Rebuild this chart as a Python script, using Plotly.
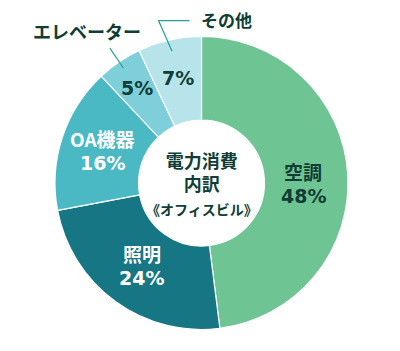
import math
import plotly.graph_objects as go

# ---- data ----
labels = ["空調", "照明", "OA機器", "エレベーター", "その他"]
values = [48, 24, 16, 5, 7]
label_inside = [True, True, True, False, False]
colors = ["#6fc493", "#177684", "#4ab9c4", "#7ecfd9", "#b7e3ea"]
text_colors = ["#103d36", "#ffffff", "#ffffff", "#103d36", "#103d36"]
center_lines = ["電力消費", "内訳", "《オフィスビル》"]

# ---- style ----
FONT = "Noto Sans CJK JP"
NUM_FONT = "DejaVu Sans"
DARK = "#103d36"
LEADER = "#26a096"
label_radius = [102, 102, 104, 115, 108]
label_yshift = [-7, 0, 0, 0, 0]

W, H = 400, 351
cx, cy, R = 201.5, 183.0, 146.5


def px(x):
    return x / W


def py(y):
    return 1 - y / H


def polar(theta_deg, r):
    t = math.radians(theta_deg)
    return cx + r * math.sin(t), cy - r * math.cos(t)


fig = go.Figure()
fig.add_trace(go.Pie(
    labels=labels,
    values=values,
    textinfo="none",
    marker=dict(colors=colors, line=dict(color="#ffffff", width=1.2)),
    sort=False,
    direction="clockwise",
    rotation=0,
    hole=0.43,
    showlegend=False,
    hoverinfo="skip",
    domain=dict(x=[px(cx - 175), px(cx + 175)], y=[py(cy + R), py(cy - R)]),
))

# slice mid angles from data
total = sum(values)
mids = []
acc = 0
for v in values:
    mids.append((acc + v / 2) / total * 360)
    acc += v

shapes = []
annotations = []

# slice labels
for k, (lab, v) in enumerate(zip(labels, values)):
    x, y = polar(mids[k], label_radius[k])
    y = y - label_yshift[k]
    pct = f"{v}%"
    if label_inside[k]:
        annotations.append(dict(x=px(x), y=py(y), xref="paper", yref="paper",
                                text=lab, showarrow=False, xanchor="center", yanchor="middle",
                                yshift=12.5,
                                font=dict(family=FONT, size=19, color=text_colors[k], weight="bold")))
        annotations.append(dict(x=px(x), y=py(y), xref="paper", yref="paper",
                                text=pct, showarrow=False, xanchor="center", yanchor="middle",
                                yshift=-12.5,
                                font=dict(family=NUM_FONT, size=19, color=text_colors[k], weight="bold")))
    else:
        annotations.append(dict(x=px(x), y=py(y), xref="paper", yref="paper",
                                text=pct, showarrow=False, xanchor="center", yanchor="middle",
                                font=dict(family=NUM_FONT, size=19, color=text_colors[k], weight="bold")))

# エレベーター leader (radial)
i = labels.index("エレベーター")
x0, y0 = polar(mids[i], 139)
x1, y1 = polar(mids[i], 163)
shapes.append(dict(type="line", xref="paper", yref="paper",
                   x0=px(x0), y0=py(y0), x1=px(x1), y1=py(y1),
                   line=dict(color=LEADER, width=1.2)))
annotations.append(dict(x=px(x1), y=py(y1), xref="paper", yref="paper",
                        text=labels[i], showarrow=False, xanchor="center", yanchor="middle",
                        xshift=-23, yshift=17,
                        font=dict(family=FONT, size=18, color=DARK, weight="bold")))

# その他 leader (elbow)
j = labels.index("その他")
a0, b0 = polar(mids[j], 135)
a1, b1 = polar(mids[j] - 2.2, 168)
a2 = a1 + 31
shapes.append(dict(type="path", xref="paper", yref="paper",
                   path=f"M {px(a0)} {py(b0)} L {px(a1)} {py(b1)} L {px(a2)} {py(b1)}",
                   line=dict(color=LEADER, width=1.2)))
annotations.append(dict(x=px(a2), y=py(b1), xref="paper", yref="paper",
                        text=labels[j], showarrow=False, xanchor="left", yanchor="middle",
                        xshift=9, yshift=1,
                        font=dict(family=FONT, size=17, color=DARK, weight="bold")))

# center text
center_text = (f"{center_lines[0]}<br>{center_lines[1]}<br>"
               f"<span style='font-size:14px'>{center_lines[2]}</span>")
annotations.append(dict(x=px(cx), y=py(cy), xref="paper", yref="paper",
                        text=center_text, showarrow=False, xanchor="center", yanchor="middle",
                        font=dict(family=FONT, size=18, color=DARK, weight="bold")))

fig.update_layout(
    width=W, height=H,
    margin=dict(l=0, r=0, t=0, b=0),
    paper_bgcolor="#ffffff",
    plot_bgcolor="#ffffff",
    shapes=shapes,
    annotations=annotations,
)

fig.write_html("out.html")
